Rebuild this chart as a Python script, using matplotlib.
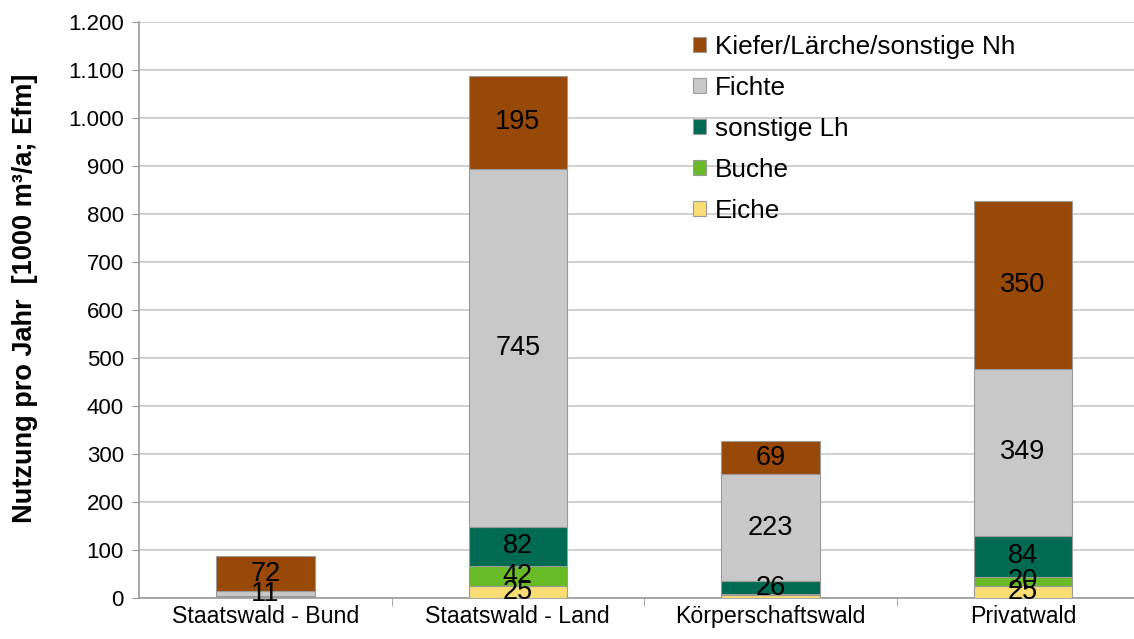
import numpy as np
import matplotlib
matplotlib.use("Agg")
import matplotlib.pyplot as plt
from matplotlib.ticker import FuncFormatter

plt.rcParams["font.family"] = ["Liberation Sans", "DejaVu Sans"]

# ── Data ───────────────────────────────────────────────────────────────────
categories = ["Staatswald - Bund", "Staatswald - Land", "Körperschaftswald", "Privatwald"]
series_names = ["Eiche", "Buche", "sonstige Lh", "Fichte", "Kiefer/Lärche/sonstige Nh"]
eiche = [1, 25, 7, 25]
buche = [1, 42, 2, 20]
sonstige_lh = [2, 82, 26, 84]
fichte = [11, 745, 223, 349]
kiefer = [72, 195, 69, 350]
colors = ["#F8DC74", "#69BC28", "#006B52", "#C8C8C8", "#984807"]
y_ticks = list(range(0, 1201, 100))

# ── Figure ─────────────────────────────────────────────────────────────────
fig = plt.figure(figsize=(11.34, 6.39), dpi=100)
ax = fig.add_axes([0.1226, 0.064, 0.8907, 0.901])

x = np.arange(len(categories))
bottom = np.zeros(len(categories))
handles = []
for name, vals, col in zip(series_names, [eiche, buche, sonstige_lh, fichte, kiefer], colors):
    vals = np.array(vals, dtype=float)
    bars = ax.bar(x, vals, bottom=bottom, width=0.39, color=col,
                  edgecolor="#9A9A9A", linewidth=0.8, zorder=3, label=name)
    handles.append(bars)
    for xi, v, b in zip(x, vals, bottom):
        if v >= 10:
            ax.text(xi, b + v / 2, f"{int(v)}", ha="center", va="center",
                    fontsize=19.5, color="black", zorder=5)
    bottom += vals

ax.set_xlim(-0.5, 3.5)
ax.set_ylim(0, 1200)
ax.set_yticks(y_ticks)
ax.yaxis.set_major_formatter(FuncFormatter(lambda v, p: f"{int(v):,}".replace(",", ".")))
ax.set_xticks(x)
ax.set_xticklabels(categories)
ax.set_xticks(np.arange(0.5, 3.5, 1), minor=True)
ax.tick_params(axis="x", which="major", length=0, labelsize=16.7, pad=5)
ax.tick_params(axis="x", which="minor", length=6, color="#9A9A9A", direction="out")
ax.tick_params(axis="y", length=5, color="#9A9A9A", labelsize=16, pad=6)

ax.grid(axis="y", color="#C8C8C8", linewidth=1.2, zorder=0)
ax.set_axisbelow(True)
for s in ["top", "right"]:
    ax.spines[s].set_visible(False)
ax.spines["left"].set_color("#9A9A9A")
ax.spines["bottom"].set_color("#9A9A9A")
ax.spines["left"].set_linewidth(1.2)
ax.spines["bottom"].set_linewidth(1.2)

ax.set_ylabel("Nutzung pro Jahr  [1000 m³/a; Efm]", fontsize=19.5, fontweight="bold")
ax.yaxis.set_label_coords(-0.1, 0.52)

leg = ax.legend(handles[::-1], series_names[::-1], loc="upper left",
                bbox_to_anchor=(0.530, 1.01), frameon=False, fontsize=18.8,
                handlelength=0.5, handleheight=0.5, handletextpad=0.35,
                labelspacing=0.65, borderaxespad=0.3)

fig.savefig("out.png", dpi=100)
